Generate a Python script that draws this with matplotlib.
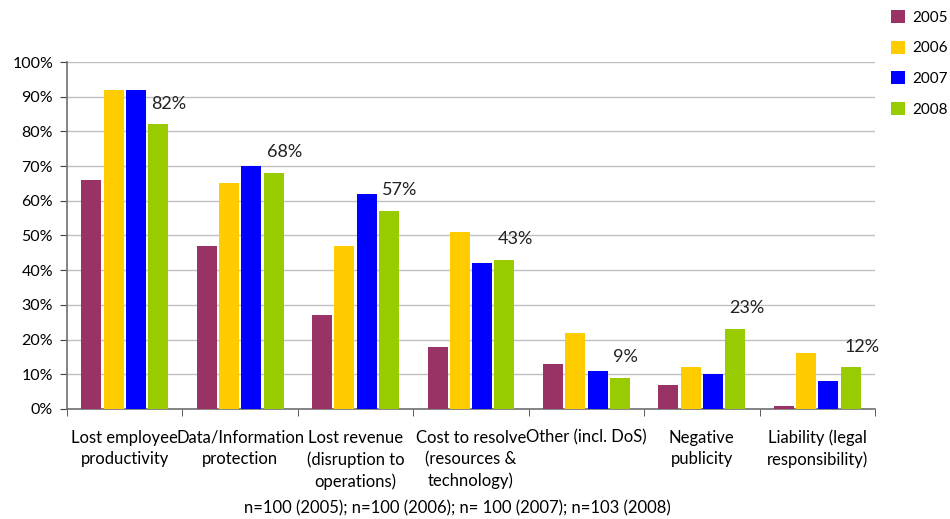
import numpy as np
import matplotlib.pyplot as plt
from matplotlib.ticker import PercentFormatter

plt.rcParams['font.family'] = ['Lato', 'DejaVu Sans']
plt.rcParams['font.size'] = 12

categories = [
    'Lost employee\nproductivity',
    'Data/Information\nprotection',
    'Lost revenue\n(disruption to\noperations)',
    'Cost to resolve\n(resources &\ntechnology)',
    'Other (incl. DoS)',
    'Negative\npublicity',
    'Liability (legal\nresponsibility)',
]
years = ['2005', '2006', '2007', '2008']
v2005 = [66, 47, 27, 18, 13, 7, 1]
v2006 = [92, 65, 47, 51, 22, 12, 16]
v2007 = [92, 70, 62, 42, 11, 10, 8]
v2008 = [82, 68, 57, 43, 9, 23, 12]
colors = ['#993366', '#FFCC00', '#0000FF', '#99CC00']
footnote = 'n=100 (2005); n=100 (2006); n= 100 (2007); n=103 (2008)'

fig = plt.figure(figsize=(9.5, 5.19), dpi=100)
ax = fig.add_axes([0.0705, 0.212, 0.8505, 0.6685])

x = np.arange(len(categories))
step = 0.193
width = 0.173
series = [v2005, v2006, v2007, v2008]
for k, (vals, col, yr) in enumerate(zip(series, colors, years)):
    ax.bar(x + (k - 1.5) * step, vals, width=width, color=col, label=yr, zorder=3)

# value labels above the 2008 bars
for xi, v in zip(x, v2008):
    ax.text(xi + 1.5 * step - width / 2 + 0.03, v + 6, f'{v}%',
            ha='left', va='center', fontsize=13, color='#222222')

ax.set_xlim(-0.5, len(categories) - 0.5)
ax.set_ylim(0, 100)
ax.set_yticks(range(0, 101, 10))
ax.yaxis.set_major_formatter(PercentFormatter(decimals=0))
ax.grid(axis='y', color='#c0c0c0', linewidth=1, zorder=0)

# category labels centred, tick marks on group boundaries
ax.set_xticks(x)
ax.set_xticklabels(categories, linespacing=1.4, fontsize=12)
ax.tick_params(axis='x', length=0, pad=15)
ax.set_xticks(np.arange(-0.5, len(categories)), minor=True)
ax.tick_params(axis='x', which='minor', length=5, color='#404040', direction='out')
ax.tick_params(axis='y', length=5, color='#404040', labelsize=11.5, pad=5)

for s in ['top', 'right']:
    ax.spines[s].set_visible(False)
for s in ['left', 'bottom']:
    ax.spines[s].set_color('#707070')
    ax.spines[s].set_linewidth(1.2)

ax.legend(loc='upper left', bbox_to_anchor=(1.012, 1.167), frameon=False,
          handlelength=0.9, handleheight=0.9, handletextpad=0.5,
          labelspacing=1.05, fontsize=11, borderaxespad=0)

fig.text(457 / 950, 1 - 508 / 519, footnote, ha='center', va='center', fontsize=12)

plt.savefig('out.png', dpi=100)
